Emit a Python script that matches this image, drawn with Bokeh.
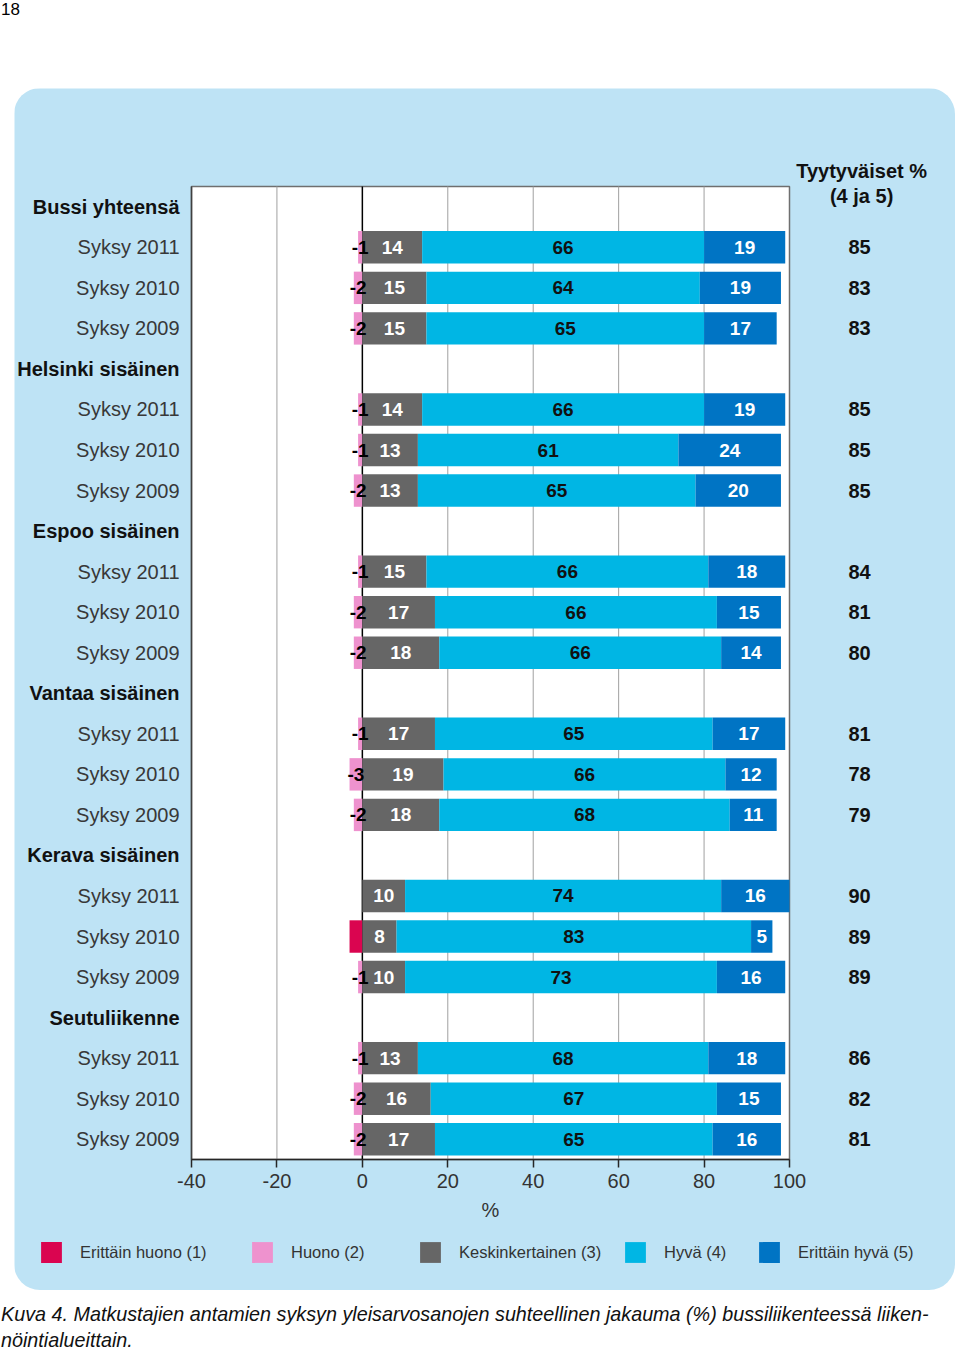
from bokeh.plotting import figure
from bokeh.models import (ColumnDataSource, Legend, LegendItem, LinearAxis,
                          FixedTicker, Range1d, Div, Spacer)
from bokeh.layouts import column, row
from bokeh.embed import file_html
from bokeh.resources import INLINE
from bokeh.core.properties import value

# ---------------- data ----------------
groups = ["Bussi yhteensä", "Helsinki sisäinen", "Espoo sisäinen",
          "Vantaa sisäinen", "Kerava sisäinen", "Seutuliikenne"]
years = ["Syksy 2011", "Syksy 2010", "Syksy 2009"]

erittain_huono = [0, 0, 0, 0, 0, 0, 0, 0, 0, 0, 0, 0, 0, 3, 0, 0, 0, 0]
huono = [1, 2, 2, 1, 1, 2, 1, 2, 2, 1, 3, 2, 0, 0, 1, 1, 2, 2]
keskinkertainen = [14, 15, 15, 14, 13, 13, 15, 17, 18, 17, 19, 18, 10, 8, 10, 13, 16, 17]
hyva = [66, 64, 65, 66, 61, 65, 66, 66, 66, 65, 66, 68, 74, 83, 73, 68, 67, 65]
erittain_hyva = [19, 19, 17, 19, 24, 20, 18, 15, 14, 17, 12, 11, 16, 5, 16, 18, 15, 16]
tyytyvaiset = [85, 83, 83, 85, 85, 85, 84, 81, 80, 81, 78, 79, 90, 89, 89, 86, 82, 81]

series_names = ["Erittäin huono (1)", "Huono (2)", "Keskinkertainen (3)", "Hyvä (4)", "Erittäin hyvä (5)"]
x_ticks = [-40, -20, 0, 20, 40, 60, 80, 100]
grid_x = [-20, 0, 20, 40, 60, 80]

# ---------------- styles ----------------
C_RED = "#DA0550"
C_PINK = "#EE92CE"
C_GRAY = "#666666"
C_CYAN = "#00B6E4"
C_BLUE = "#0074C4"
PANEL = "#BEE3F5"
FONT = "Liberation Sans"

X_MIN, X_MAX = -40, 100
Y_TOP, Y_BOT = -0.5, 23.5

# ---------------- derived positions ----------------
row_y, row_lab = [], []
for g, name in enumerate(groups):
    for k, yr in enumerate(years):
        row_y.append(g * 4 + 1 + k)
        row_lab.append(yr)
head_y = [g * 4 for g in range(len(groups))]

red_l = [-(h + e) for h, e in zip(huono, erittain_huono)]
red_r = [-h for h in huono]
pink_l = [-h for h in huono]
pink_r = [0] * len(huono)
gray_l = [0] * len(huono)
gray_r = list(keskinkertainen)
cyan_l = gray_r
cyan_r = [k + h for k, h in zip(keskinkertainen, hyva)]
blue_l = cyan_r
blue_r = [c + e for c, e in zip(cyan_r, erittain_hyva)]

W, H = 941, 1202
PX_X = 598 / 140.0          # pixels per x unit
PX_Y = 973 / 24.0           # pixels per row slot
x_start = X_MIN - 177 / PX_X
x_end = X_MAX + (W - 775) / PX_X
y_top = Y_TOP - 98 / PX_Y
y_bot = Y_BOT + (H - 1071) / PX_Y

p = figure(width=W, height=H,
           x_range=Range1d(x_start, x_end), y_range=Range1d(y_bot, y_top),
           output_backend="svg", toolbar_location=None,
           x_axis_location=None, y_axis_location=None,
           min_border=0, background_fill_color=PANEL, border_fill_color=PANEL,
           outline_line_color=None)
p.styles = {"border-radius": "26px", "overflow": "hidden"}
p.grid.visible = False

# plot area
p.quad(left=[X_MIN], right=[X_MAX], top=[Y_TOP], bottom=[Y_BOT],
       fill_color="white", line_color="#6f6f6f", line_width=1.5)
# grid lines
src_grid = ColumnDataSource(dict(x=grid_x, y0=[Y_TOP] * len(grid_x), y1=[Y_BOT] * len(grid_x),
                                 c=["black" if g == 0 else "#a0a0a0" for g in grid_x],
                                 w=[1.5 if g == 0 else 1 for g in grid_x]))
p.segment(x0="x", y0="y0", x1="x", y1="y1", line_color="c", line_width="w", source=src_grid)
# left frame line darker
p.segment(x0=[X_MIN], y0=[Y_TOP], x1=[X_MIN], y1=[Y_BOT], line_color="#404040", line_width=1.5)

renderers = []
for lefts, rights, col in [(red_l, red_r, C_RED), (pink_l, pink_r, C_PINK), (gray_l, gray_r, C_GRAY),
                           (cyan_l, cyan_r, C_CYAN), (blue_l, blue_r, C_BLUE)]:
    src = ColumnDataSource(dict(y=row_y, l=lefts, r=rights))
    r = p.hbar(y="y", left="l", right="r", height=0.8, fill_color=col, line_color=None, source=src)
    renderers.append(r)

def txt(xs, ys, ts, color, align="center", bold=True, size="19px"):
    src = ColumnDataSource(dict(x=xs, y=ys, t=ts))
    p.text(x="x", y="y", text="t", source=src, text_align=align, text_baseline="middle",
           text_font=value(FONT), text_font_style="bold" if bold else "normal",
           text_font_size=size, text_color=color)

# bar labels
pk = [i for i in range(len(huono)) if huono[i] > 0]
txt([-huono[i] / 2 for i in pk], [row_y[i] for i in pk], ["-%d" % huono[i] for i in pk], "black")
txt([(a + b) / 2 for a, b in zip(gray_l, gray_r)], row_y, [str(v) for v in keskinkertainen], "white")
txt([(a + b) / 2 for a, b in zip(cyan_l, cyan_r)], row_y, [str(v) for v in hyva], "#111111")
txt([(a + b) / 2 for a, b in zip(blue_l, blue_r)], row_y, [str(v) for v in erittain_hyva], "white")

# category labels
LAB_X = X_MIN - 12 / PX_X
txt([LAB_X] * len(row_y), row_y, row_lab, "#383838", align="right", bold=False, size="20px")
txt([LAB_X] * len(head_y), head_y, groups, "#111111", align="right", bold=True, size="20px")

# satisfied column
SAT_X = X_MAX + 70 / PX_X
txt([SAT_X] * len(row_y), row_y, [str(v) for v in tyytyvaiset], "#111111", size="20px")
txt([SAT_X + 0.5] * 2, [Y_TOP - 16 / PX_Y, Y_TOP + 9 / PX_Y], ["Tyytyväiset %", "(4 ja 5)"],
    "#111111", size="20px")

# x axis (fixed at bottom of plot area)
ax = LinearAxis(fixed_location=Y_BOT, bounds=(X_MIN, X_MAX), ticker=FixedTicker(ticks=x_ticks))
ax.major_label_overrides = {t: str(t) for t in x_ticks}
ax.minor_tick_line_color = None
ax.major_tick_in = 0
ax.major_tick_out = 8
ax.major_tick_line_color = "#262626"
ax.major_tick_line_width = 1.5
ax.axis_line_color = "#262626"
ax.axis_line_width = 1.5
ax.major_label_text_font = FONT
ax.major_label_text_font_size = "20px"
ax.major_label_text_color = "#333333"
ax.major_label_standoff = 6
ax.axis_label = "%"
ax.axis_label_text_font = FONT
ax.axis_label_text_font_style = "normal"
ax.axis_label_text_font_size = "20px"
ax.axis_label_text_color = "#333333"
ax.axis_label_standoff = 8
p.add_layout(ax, "below")

# legend: one entry per series at its own place
leg_x = [24, 235, 403, 608, 742]
for name, r, lx in zip(series_names, renderers, leg_x):
    lg = Legend(items=[LegendItem(label=name, renderers=[r])], location=(lx, 25),
                orientation="horizontal", glyph_width=26, glyph_height=26, label_standoff=16,
                label_text_font=FONT, label_text_font_size="16.5px", label_text_color="#333333",
                background_fill_alpha=0, border_line_alpha=0, padding=0, margin=0)
    p.add_layout(lg, "center")

top = Div(text='<div style="position:relative; top:-7px; left:-4px; font-family:Liberation Sans; font-size:17px;">18</div>',
          width=944, height=78)
cap = Div(text='<div style="position:relative; left:-4px; top:6px; width:940px; font-family:Liberation Sans; '
               'font-style:italic; font-size:19.75px; line-height:26px; color:#111;">'
               'Kuva 4. Matkustajien antamien syksyn yleisarvosanojen suhteellinen jakauma (%) bussiliikenteessä liiken-<br>'
               'nöintialueittain.</div>',
          width=944, height=50)

layout = column(top, row(Spacer(width=14, height=H), p), cap)
open("out.html", "w").write(file_html(layout, INLINE))
